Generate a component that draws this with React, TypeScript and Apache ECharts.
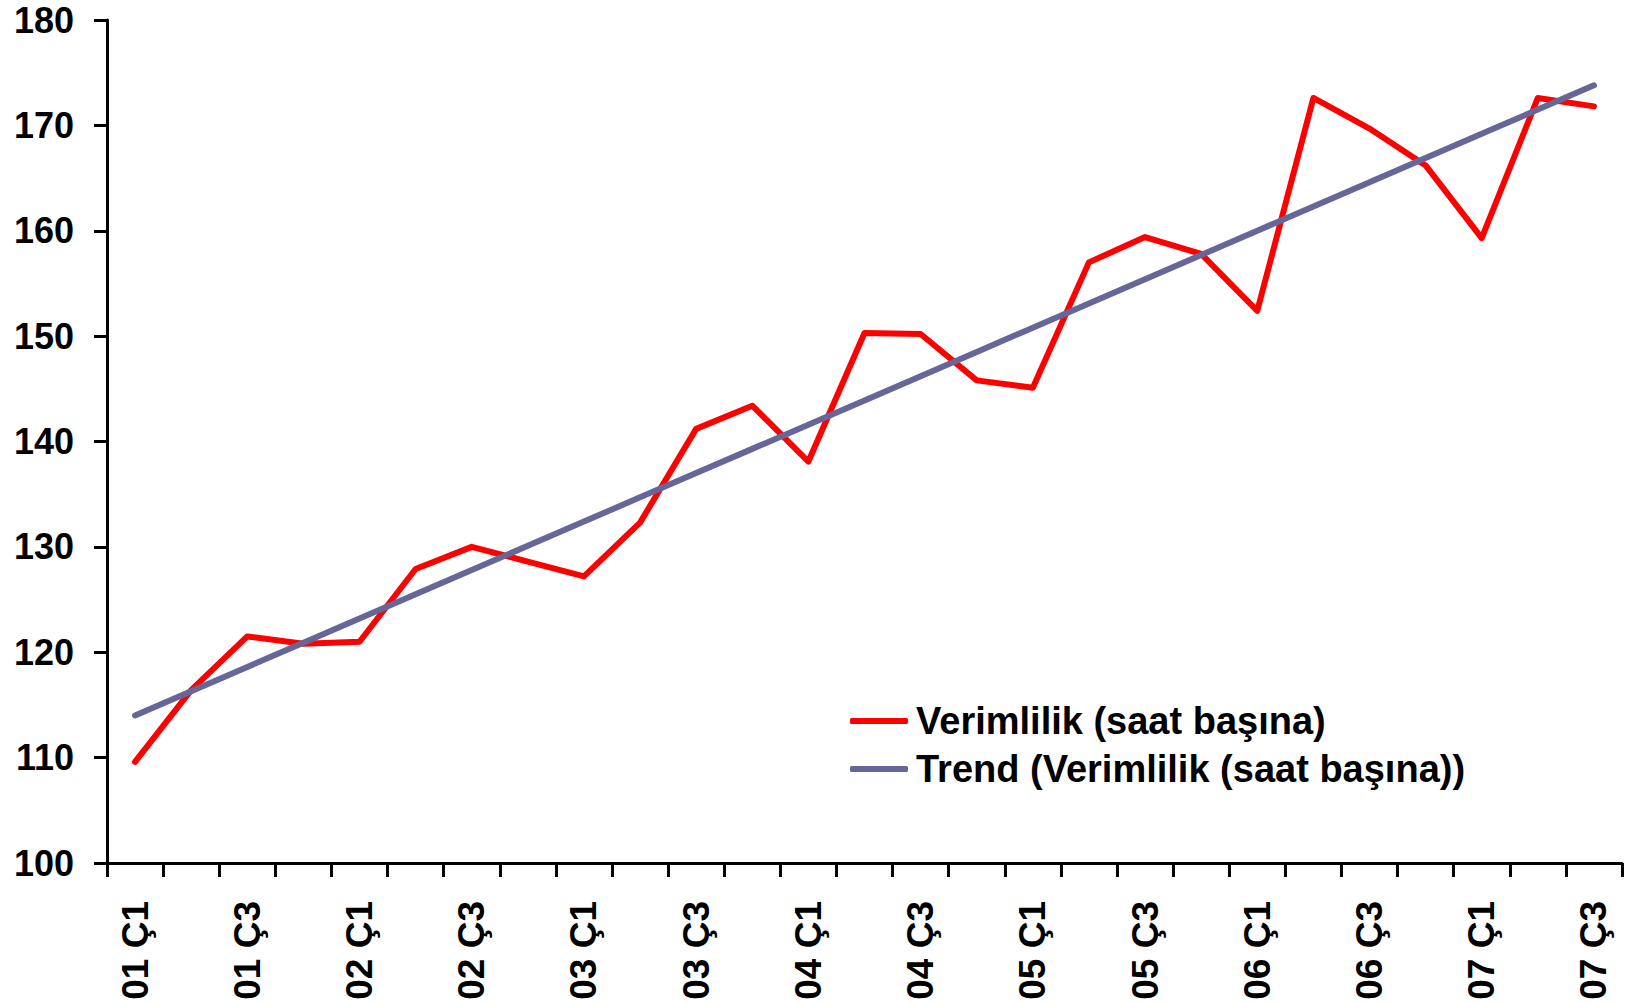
import React, { useEffect, useRef } from "react";
import * as echarts from "echarts";

const categories = [
  "01 Ç1", "01 Ç2", "01 Ç3", "01 Ç4",
  "02 Ç1", "02 Ç2", "02 Ç3", "02 Ç4",
  "03 Ç1", "03 Ç2", "03 Ç3", "03 Ç4",
  "04 Ç1", "04 Ç2", "04 Ç3", "04 Ç4",
  "05 Ç1", "05 Ç2", "05 Ç3", "05 Ç4",
  "06 Ç1", "06 Ç2", "06 Ç3", "06 Ç4",
  "07 Ç1", "07 Ç2", "07 Ç3",
];

const productivity = [
  109.6, 116.4, 121.5, 120.8,
  121.0, 127.9, 130.0, 128.6,
  127.2, 132.3, 141.2, 143.4,
  138.1, 150.3, 150.2, 145.8,
  145.1, 157.0, 159.4, 157.8,
  152.4, 172.6, 169.7, 166.2,
  159.3, 172.6, 171.8,
];

const trend = [
  114.0, 116.3, 118.6, 120.9,
  123.2, 125.5, 127.8, 130.1,
  132.4, 134.7, 137.0, 139.3,
  141.6, 143.9, 146.2, 148.5,
  150.8, 153.1, 155.4, 157.7,
  160.0, 162.3, 164.6, 166.9,
  169.2, 171.5, 173.8,
];

const seriesNames = [
  "Verimlilik (saat başına)",
  "Trend (Verimlilik (saat başına))",
];

const FONT = "'Liberation Sans', Arial, Helvetica, sans-serif";

export default function App() {
  const ref = useRef<HTMLDivElement>(null);

  useEffect(() => {
    if (!ref.current) return;
    document.body.style.margin = "0";
    const chart = echarts.init(ref.current, null, { renderer: "svg" });
    chart.setOption({
      animation: false,
      backgroundColor: "#ffffff",
      textStyle: { fontFamily: FONT },
      grid: { left: 107, right: 15, top: 20, bottom: 141, containLabel: false },
      legend: {
        orient: "vertical",
        left: 845,
        top: 697,
        itemGap: 10,
        itemWidth: 58,
        itemHeight: 6,
        icon: "roundRect",
        textStyle: {
          fontFamily: FONT,
          fontSize: 38,
          fontWeight: "bold",
          color: "#000000",
          lineHeight: 38,
          padding: [0, 0, 0, 3],
        },
        data: seriesNames,
      },
      xAxis: {
        type: "category",
        data: categories,
        boundaryGap: true,
        axisLine: { show: true, lineStyle: { color: "#000000", width: 3 } },
        axisTick: {
          show: true,
          interval: 0,
          length: 14,
          lineStyle: { color: "#000000", width: 3 },
        },
        axisLabel: {
          interval: 1,
          rotate: 90,
          margin: 38,
          fontFamily: FONT,
          fontSize: 37,
          fontWeight: "bold",
          color: "#000000",
        },
        splitLine: { show: false },
      },
      yAxis: {
        type: "value",
        min: 100,
        max: 180,
        interval: 10,
        axisLine: { show: true, lineStyle: { color: "#000000", width: 3 } },
        axisTick: {
          show: true,
          length: 13,
          lineStyle: { color: "#000000", width: 3 },
        },
        axisLabel: {
          margin: 33,
          fontFamily: FONT,
          fontSize: 36,
          lineHeight: 30,
          fontWeight: "bold",
          color: "#000000",
        },
        splitLine: { show: false },
      },
      series: [
        {
          name: seriesNames[0],
          type: "line",
          data: productivity,
          showSymbol: false,
          symbol: "none",
          color: "#FF0000",
          lineStyle: { color: "#FF0000", width: 6, cap: "round", join: "round" },
          z: 3,
        },
        {
          name: seriesNames[1],
          type: "line",
          data: trend,
          showSymbol: false,
          symbol: "none",
          color: "#666699",
          lineStyle: { color: "#666699", width: 6, cap: "round", join: "round" },
          z: 4,
        },
      ],
    });
    return () => chart.dispose();
  }, []);

  return <div ref={ref} style={{ width: 1637, height: 1004 }} />;
}
